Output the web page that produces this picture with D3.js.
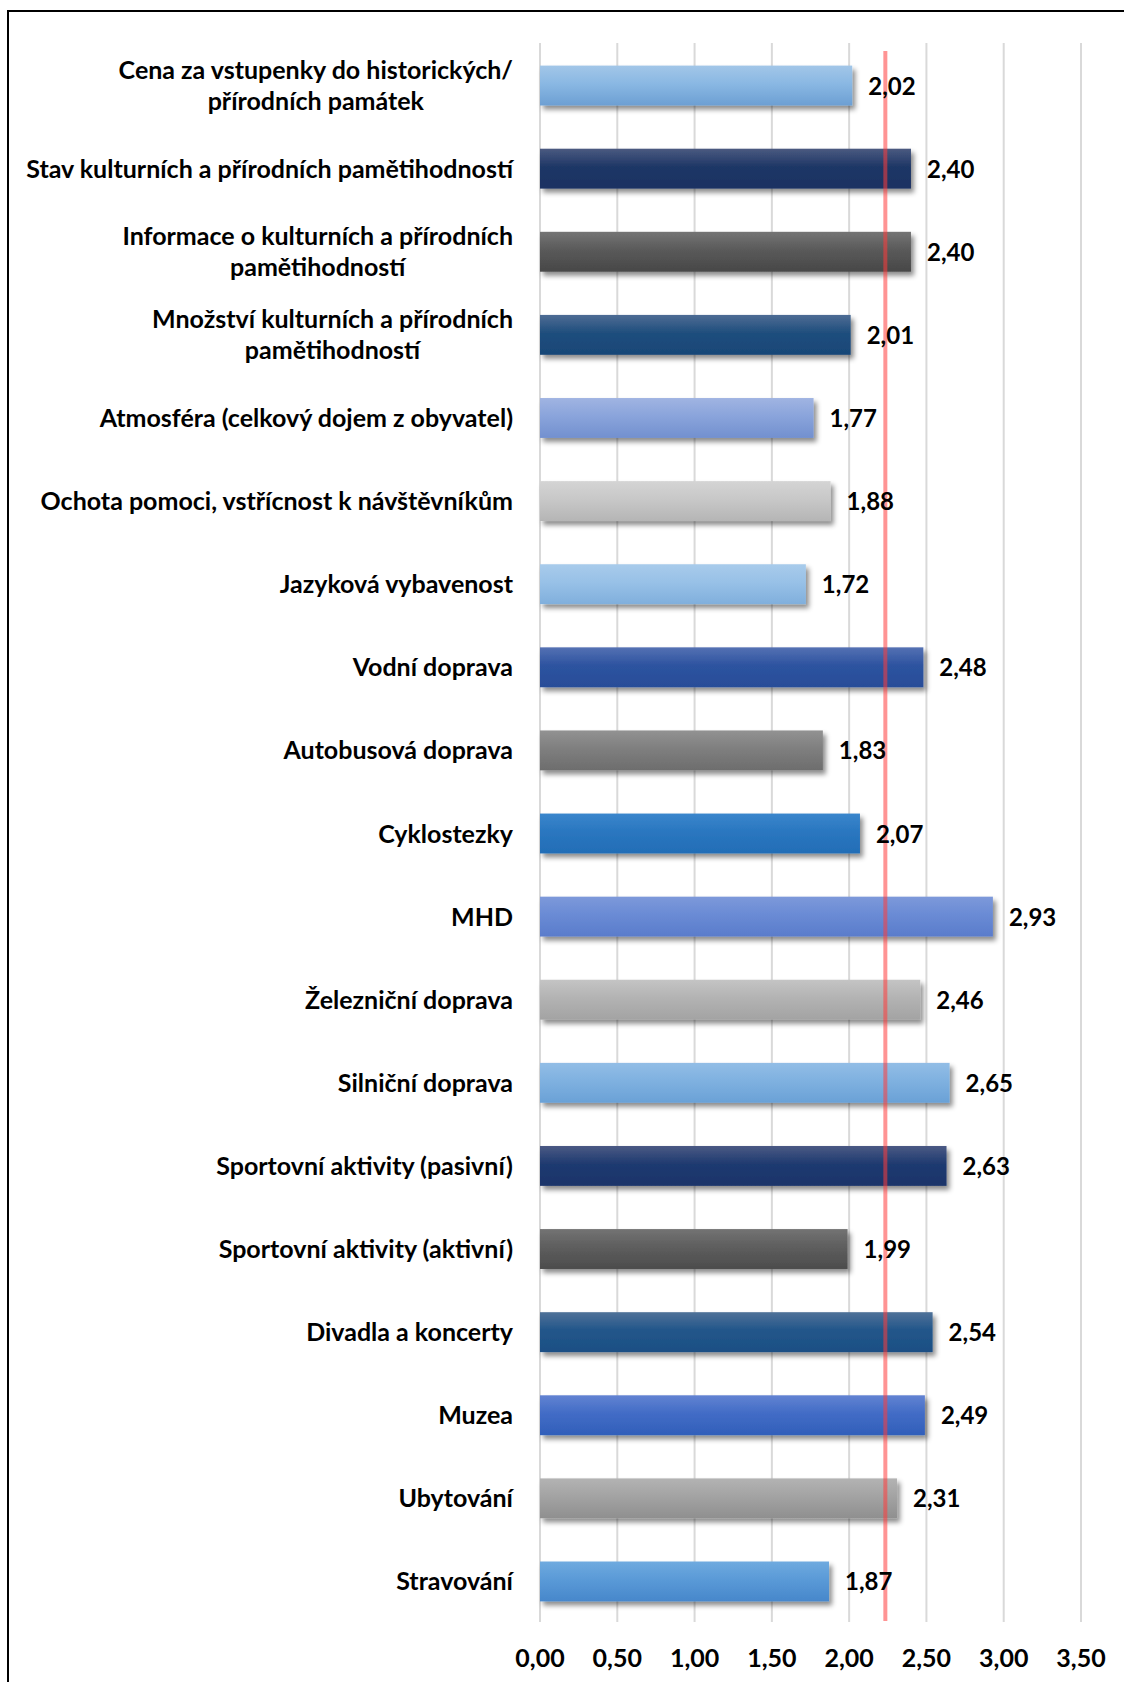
<!DOCTYPE html>
<html>
<head>
<meta charset="utf-8">
<script src="https://cdn.jsdelivr.net/npm/d3@7/dist/d3.min.js"></script>
<style>
  html, body { margin: 0; padding: 0; background: #fff; }
  svg { display: block; }
  text { font-family: Lato, "Open Sans", sans-serif; font-weight: 700; fill: #000; }
</style>
</head>
<body>
<svg id="chart" width="1124" height="1682"></svg>
<script>
// Rating categories, top to bottom (line breaks mark wrapped labels)
const categories = [
  "Cena za vstupenky do historických/\npřírodních památek",
  "Stav kulturních a přírodních pamětihodností",
  "Informace o kulturních a přírodních\npamětihodností",
  "Množství kulturních a přírodních\npamětihodností",
  "Atmosféra (celkový dojem z obyvatel)",
  "Ochota pomoci, vstřícnost k návštěvníkům",
  "Jazyková vybavenost",
  "Vodní doprava",
  "Autobusová doprava",
  "Cyklostezky",
  "MHD",
  "Železniční doprava",
  "Silniční doprava",
  "Sportovní aktivity (pasivní)",
  "Sportovní aktivity (aktivní)",
  "Divadla a koncerty",
  "Muzea",
  "Ubytování",
  "Stravování"
];

// Average score per category
const values = [2.02, 2.40, 2.40, 2.01, 1.77, 1.88, 1.72, 2.48, 1.83, 2.07,
                2.93, 2.46, 2.65, 2.63, 1.99, 2.54, 2.49, 2.31, 1.87];

// Bar fills: [top, middle, bottom] of each vertical gradient
const barColors = [
  ["#a2c6e8", "#8ab8e3", "#6c9fd3"],
  ["#4a5a80", "#1f3766", "#1b3163"],
  ["#747474", "#5a5a5a", "#474747"],
  ["#4d6c94", "#1f4e7d", "#184677"],
  ["#a0b4e2", "#8aa4db", "#7290cf"],
  ["#d4d4d4", "#c8c8c8", "#b5b5b5"],
  ["#a8cbeb", "#98c1e7", "#80afdc"],
  ["#5571b3", "#2d53a0", "#284d98"],
  ["#929292", "#7f7f7f", "#6d6d6d"],
  ["#3a86cc", "#2a77c0", "#236db6"],
  ["#7d99da", "#6a8bd5", "#5a7ccb"],
  ["#c4c4c4", "#b3b3b3", "#a3a3a3"],
  ["#92bde6", "#7fb1e0", "#6aa1d6"],
  ["#4a5a84", "#1f3a70", "#1b346a"],
  ["#737373", "#5e5e5e", "#4c4c4c"],
  ["#4f7198", "#22568a", "#1c4f84"],
  ["#6283d2", "#426cc6", "#315fba"],
  ["#b3b3b3", "#a3a3a3", "#8f8f8f"],
  ["#6faadf", "#5a9ad7", "#4787cb"]
];

// Axis ticks
const tickValues = [0, 0.5, 1, 1.5, 2, 2.5, 3, 3.5];

const meanValue = d3.mean(values);
const fmt = v => d3.format(".2f")(v).replace(".", ",");

const svg = d3.select("#chart");
const defs = svg.append("defs");

const x = d3.scaleLinear().domain([0, 3.5]).range([540, 1081]);
const y = d3.scaleBand().domain(categories).range([44, 1623])
  .paddingInner(0.52).paddingOuter(0.26);

// Soft drop shadow under the bars
const shadow = defs.append("filter").attr("id", "barShadow")
  .attr("x", "-5%").attr("y", "-30%").attr("width", "115%").attr("height", "180%");
shadow.append("feDropShadow")
  .attr("dx", 3).attr("dy", 4).attr("stdDeviation", 2.6)
  .attr("flood-color", "#000").attr("flood-opacity", 0.45);

barColors.forEach((c, i) => {
  const g = defs.append("linearGradient").attr("id", "bar" + i)
    .attr("x1", 0).attr("y1", 0).attr("x2", 0).attr("y2", 1);
  g.append("stop").attr("offset", "0%").attr("stop-color", c[0]);
  g.append("stop").attr("offset", "45%").attr("stop-color", c[1]);
  g.append("stop").attr("offset", "100%").attr("stop-color", c[2]);
});

// Frame
svg.append("path")
  .attr("d", "M8,1682 V11 H1124")
  .attr("fill", "none").attr("stroke", "#000").attr("stroke-width", 2);

// Vertical gridlines
svg.append("g").selectAll("line").data(tickValues).join("line")
  .attr("x1", d => x(d)).attr("x2", d => x(d))
  .attr("y1", 43).attr("y2", 1622)
  .attr("stroke", "#d9d9d9").attr("stroke-width", 2);

// Bars
svg.append("g").selectAll("rect").data(categories).join("rect")
  .attr("x", x(0))
  .attr("y", d => y(d))
  .attr("width", (d, i) => x(values[i]) - x(0))
  .attr("height", y.bandwidth())
  .attr("fill", (d, i) => `url(#bar${i})`)
  .attr("filter", "url(#barShadow)");

// Average line
svg.append("line")
  .attr("x1", x(meanValue)).attr("x2", x(meanValue))
  .attr("y1", 51).attr("y2", 1621)
  .attr("stroke", "rgb(255,60,60)").attr("stroke-opacity", 0.55)
  .attr("stroke-width", 4);

// Category labels
const labelSize = 25;
const valueSize = 24;
const lineH = 31;
const labelRight = 513;
svg.append("g").attr("class", "cat").selectAll("text").data(categories).join("text")
  .attr("text-anchor", "end")
  .attr("font-size", labelSize)
  .each(function (d) {
    const lines = d.split("\n");
    const cy = y(d) + y.bandwidth() / 2;
    const first = cy - (lines.length - 1) * lineH / 2;
    const t = d3.select(this);
    lines.forEach((ln, k) => {
      t.append("tspan")
        .attr("x", labelRight)
        .attr("y", first + k * lineH + 9)
        .text(ln);
    });
  });

// Center the second line of wrapped labels under the first one
svg.selectAll("g.cat text").filter(d => d.includes("\n")).each(function () {
  const spans = d3.select(this).selectAll("tspan").nodes();
  const w0 = spans[0].getComputedTextLength();
  const center = labelRight - w0 / 2;
  spans.forEach((s, k) => {
    if (k > 0) d3.select(s).attr("text-anchor", "middle").attr("x", center);
  });
});

// Value labels
svg.append("g").selectAll("text").data(categories).join("text")
  .attr("x", (d, i) => x(values[i]) + 16)
  .attr("y", d => y(d) + y.bandwidth() / 2 + 9)
  .attr("font-size", valueSize)
  .text((d, i) => fmt(values[i]));

// X axis tick labels
svg.append("g").selectAll("text").data(tickValues).join("text")
  .attr("x", d => x(d))
  .attr("y", 1667)
  .attr("text-anchor", "middle")
  .attr("font-size", labelSize)
  .text(d => fmt(d));
</script>
</body>
</html>
